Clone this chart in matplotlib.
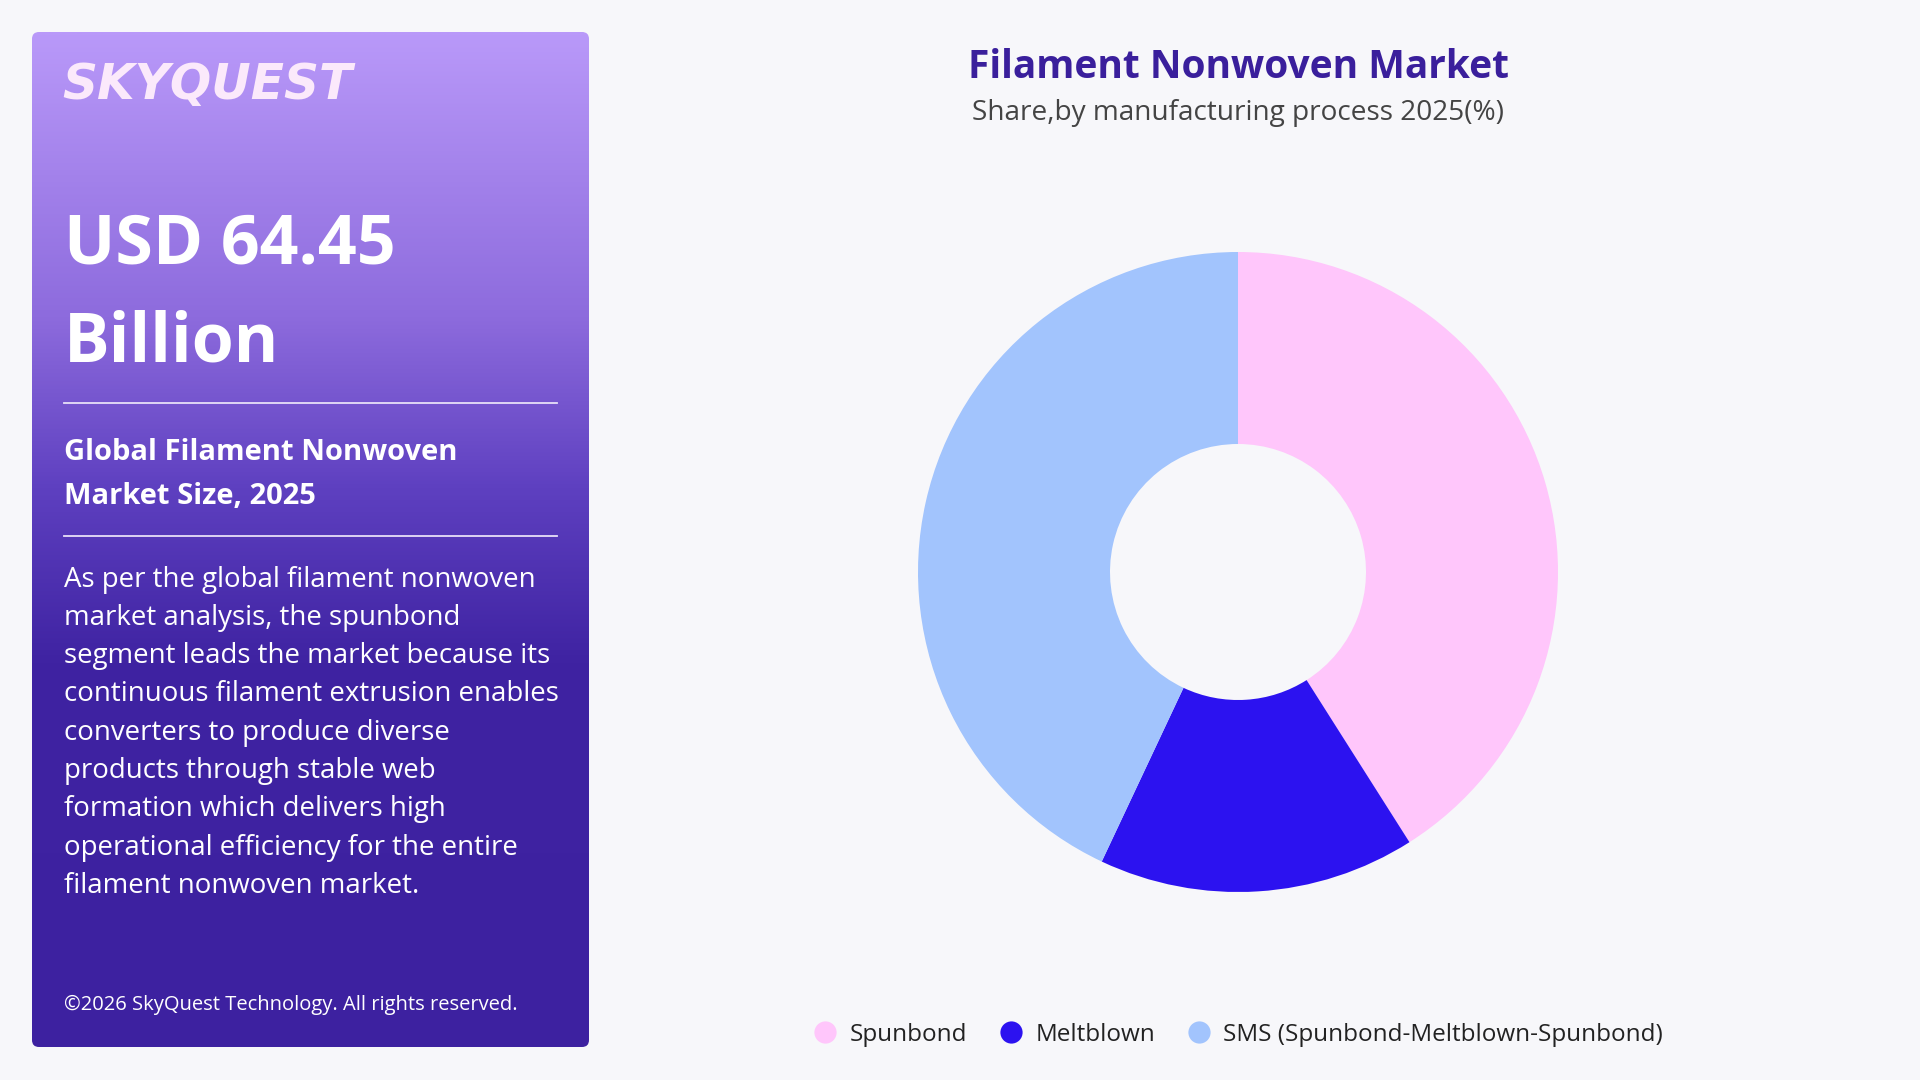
import matplotlib
matplotlib.use('Agg')
import matplotlib.pyplot as plt
import numpy as np
from matplotlib.patches import FancyBboxPatch
from matplotlib.lines import Line2D
from matplotlib.colors import LinearSegmentedColormap

# data
segments = ["Spunbond", "Meltblown", "SMS (Spunbond-Meltblown-Spunbond)"]
shares = [41.0, 16.0, 43.0]
colors = ["#FFC6FB", "#2C12F0", "#A2C4FD"]

panel_heading = ["Global Filament Nonwoven", "Market Size, 2025"]
panel_body = [
    "As per the global filament nonwoven",
    "market analysis, the spunbond",
    "segment leads the market because its",
    "continuous filament extrusion enables",
    "converters to produce diverse",
    "products through stable web",
    "formation which delivers high",
    "operational efficiency for the entire",
    "filament nonwoven market.",
]

W, H = 1920, 1080
BG = "#F7F7FA"
FONT = "Open Sans"

fig = plt.figure(figsize=(19.2, 10.8), dpi=100)
fig.patch.set_facecolor(BG)


def fx(x):
    return x / W


def fy(y):
    return 1 - y / H


# ---- left gradient panel ----
px0, py0, pw, ph = 32, 32, 557, 1015
pax = fig.add_axes([fx(px0), fy(py0 + ph), pw / W, ph / H])
pax.set_xlim(0, pw)
pax.set_ylim(ph, 0)
pax.axis('off')
cmap = LinearSegmentedColormap.from_list(
    "panel", [(0, "#B999F9"), (0.28, "#8D6BDD"), (0.45, "#5E40C0"),
              (0.62, "#3F23A2"), (1, "#3D21A0")])
grad = np.linspace(0, 1, 512).reshape(-1, 1)
img = pax.imshow(grad, cmap=cmap, aspect='auto', extent=[0, pw, ph, 0])
clip = FancyBboxPatch((0, 0), pw, ph, boxstyle="round,pad=0,rounding_size=7",
                      transform=pax.transData, facecolor='none', edgecolor='none')
pax.add_patch(clip)
img.set_clip_path(clip)

fig.text(fx(62), fy(85), "SKYQUEST", fontsize=35, fontweight='heavy', style='italic',
         color="#FBE9FB", family="DejaVu Sans", va='center', ha='left')

fig.text(fx(64), fy(245), "USD 64.45", fontsize=49, fontweight='bold',
         color='white', family=FONT, va='center', ha='left')
fig.text(fx(64), fy(343), "Billion", fontsize=49, fontweight='bold',
         color='white', family=FONT, va='center', ha='left')

fig.add_artist(Line2D([fx(64), fx(557)], [fy(403), fy(403)], color='#E8E0F8', lw=1.3))
for i, line in enumerate(panel_heading):
    fig.text(fx(64), fy(452.5 + i * 44), line, fontsize=21, fontweight='bold',
             color='white', family=FONT, va='center', ha='left')
fig.add_artist(Line2D([fx(64), fx(557)], [fy(536), fy(536)], color='#E8E0F8', lw=1.3))

for i, line in enumerate(panel_body):
    fig.text(fx(64), fy(579.5 + i * 38.3), line, fontsize=19.9,
             color='white', family=FONT, va='center', ha='left')

fig.text(fx(64), fy(1005), "\u00a92026 SkyQuest Technology. All rights reserved.",
         fontsize=14.5, color='white', family=FONT, va='center', ha='left')

# ---- titles ----
fig.text(fx(1238), fy(67), "Filament Nonwoven Market", fontsize=28, fontweight='bold',
         color="#3A1F9C", family=FONT, ha='center', va='center')
fig.text(fx(1238), fy(113), "Share,by manufacturing process 2025(%)", fontsize=20.2,
         color="#444444", family=FONT, ha='center', va='center')

# ---- donut ----
cx, cy, r = 1238, 572, 320
ax = fig.add_axes([fx(cx - r), fy(cy + r), 2 * r / W, 2 * r / H])
ax.pie(shares, colors=colors, startangle=90, counterclock=False, radius=1,
       wedgeprops=dict(width=0.6, edgecolor='none'))
ax.set_xlim(-1, 1)
ax.set_ylim(-1, 1)
ax.axis('off')

# ---- legend ----
handles = [Line2D([], [], marker='o', linestyle='none', markersize=16,
                  markerfacecolor=c, markeredgecolor='none') for c in colors]
leg = fig.legend(handles, segments, loc='center', bbox_to_anchor=(fx(1238), fy(1035)),
                 ncol=3, frameon=False, handlelength=1.0, handletextpad=0.5,
                 columnspacing=1.3, prop={'family': FONT, 'size': 17.5})
for t in leg.get_texts():
    t.set_color("#222222")

fig.savefig("out.png", dpi=100, facecolor=BG)
